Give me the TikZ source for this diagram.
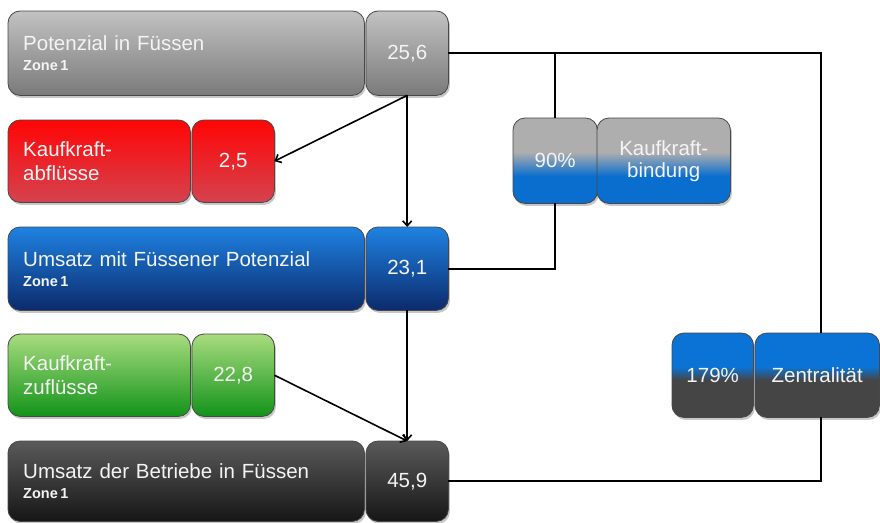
\documentclass[tikz,border=0pt]{standalone}
\usepackage{fontspec}
\setmainfont[WordSpace=0.75]{Liberation Sans}
\usetikzlibrary{arrows.meta,backgrounds}
\definecolor{gTop}{HTML}{C2C2C2}
\definecolor{gBot}{HTML}{7A7A7A}
\definecolor{rTop}{HTML}{FF0505}
\definecolor{rBot}{HTML}{D4434F}
\definecolor{bTop}{HTML}{1E82E2}
\definecolor{bBot}{HTML}{0C2A6C}
\definecolor{grTop}{HTML}{A8DC7E}
\definecolor{grBot}{HTML}{12931A}
\definecolor{kTop}{HTML}{5A5A5A}
\definecolor{kBot}{HTML}{161616}
\definecolor{kbGray}{HTML}{AEAEAE}
\definecolor{kbBlue}{HTML}{0A6ECE}
\definecolor{zBlue}{HTML}{0B73D6}
\definecolor{zGray}{HTML}{454545}
\definecolor{txt}{HTML}{F4F4F4}
\pgfdeclareverticalshading{graytoblue}{100bp}{color(0bp)=(kbBlue); color(25bp)=(kbBlue); color(41bp)=(kbBlue); color(55bp)=(kbGray); color(75bp)=(kbGray); color(100bp)=(kbGray)}
\pgfdeclareverticalshading{bluetogray}{100bp}{color(0bp)=(zGray); color(25bp)=(zGray); color(47bp)=(zGray); color(55bp)=(zBlue); color(75bp)=(zBlue); color(100bp)=(zBlue)}
\tikzset{
  box/.style={rectangle, anchor=north west, text=txt, font=\fontsize{20.5}{24}\selectfont},
  wide/.style={box, align=left, inner xsep=15pt, text width=326pt, minimum width=356pt},
  half/.style={box, align=left, inner xsep=15pt, text width=152pt, minimum width=182pt},
  val/.style={box, align=center, inner xsep=2pt},
  boxshape/.style={draw=black!72, line width=0.8pt, rounded corners=12pt},
  shadowshape/.style={fill=black, opacity=0.22, rounded corners=12pt},
  grayfill/.style={boxshape, top color=gTop, bottom color=gBot},
  redfill/.style={boxshape, top color=rTop, bottom color=rBot},
  bluefill/.style={boxshape, top color=bTop, bottom color=bBot},
  greenfill/.style={boxshape, top color=grTop, bottom color=grBot},
  blackfill/.style={boxshape, top color=kTop, bottom color=kBot},
  kbfill/.style={boxshape, shading=graytoblue},
  zfill/.style={boxshape, shading=bluetogray},
  conn/.style={line width=1.6pt, black},
  arr/.style={conn, -{Straight Barb[length=5pt,width=9pt]}}
}
\newcommand{\zonetxt}{\\[-4pt]{\fontsize{14.5}{17}\selectfont\bfseries Zone\kern2.5pt 1}}
\newcommand{\boxof}[2]{%
  \path[shadowshape] ([shift={(1.5pt,-2.5pt)}]#1.north west) rectangle ([shift={(1.5pt,-2.5pt)}]#1.south east);
  \path[#2] (#1.north west) rectangle (#1.south east);}
\begin{document}
\begin{tikzpicture}[x=1pt,y=1pt]
\useasboundingbox (0,0) rectangle (880,-522);
% row 1
\node[wide, minimum height=84pt] (p1) at (8,-11) {Potenzial in Füssen\zonetxt};
\node[val, minimum width=82pt, minimum height=84pt] (v1) at (366,-11) {25,6};
% row 2
\node[half, minimum height=82pt] (a1) at (8,-120) {Kaufkraft-\\abflüsse};
\node[val, minimum width=82pt, minimum height=82pt] (v2) at (192,-120) {2,5};
% row 3
\node[wide, minimum height=83pt] (u1) at (8,-227) {Umsatz mit Füssener Potenzial\zonetxt};
\node[val, minimum width=82pt, minimum height=83pt] (v3) at (366,-227) {23,1};
% row 4
\node[half, minimum height=82pt] (z1) at (8,-334) {Kaufkraft-\\zuflüsse};
\node[val, minimum width=82pt, minimum height=82pt] (v4) at (192,-334) {22,8};
% row 5
\node[wide, minimum height=80pt] (b1) at (8,-441) {Umsatz der Betriebe in Füssen\zonetxt};
\node[val, minimum width=82pt, minimum height=80pt] (v5) at (366,-441) {45,9};
% Kaufkraftbindung
\node[val, minimum width=84pt, minimum height=85pt] (k1) at (513,-118) {90\%};
\node[val, minimum width=133pt, minimum height=85pt] (k2) at (597,-118) {Kaufkraft-\\[-2pt]bindung};
% Zentralitaet
\node[val, minimum width=81pt, minimum height=84pt] (c1) at (672,-333) {179\%};
\node[val, minimum width=124pt, minimum height=84pt] (c2) at (755,-333) {Zentralität};
% box shapes behind the texts
\begin{scope}[on background layer]
\boxof{p1}{grayfill}\boxof{v1}{grayfill}
\boxof{a1}{redfill}\boxof{v2}{redfill}
\boxof{u1}{bluefill}\boxof{v3}{bluefill}
\boxof{z1}{greenfill}\boxof{v4}{greenfill}
\boxof{b1}{blackfill}\boxof{v5}{blackfill}
\boxof{k1}{kbfill}\boxof{k2}{kbfill}
\boxof{c1}{zfill}\boxof{c2}{zfill}
\end{scope}
% connectors
\draw[arr] (v1.south) -- (v2.east);
\draw[arr] (v1.south) -- (v3.north);
\draw[arr] (v3.south) -- (v5.north);
\draw[arr] (v4.east) -- (v5.north);
\draw[conn] (v1.east) -| ([xshift=4pt]c2.north);
\draw[conn] (k1.north) |- (v1.east);
\draw[conn] (k1.south) |- (v3.east);
\draw[conn] ([xshift=4pt]c2.south) |- (v5.east);
\end{tikzpicture}
\end{document}
